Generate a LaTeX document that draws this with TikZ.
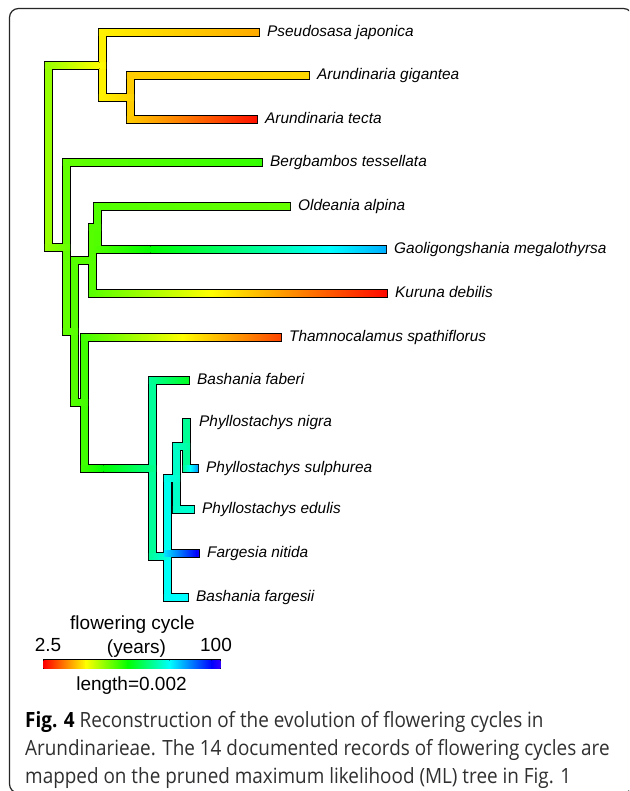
\documentclass[tikz,border=0pt]{standalone}
\usepackage{fontspec}
\setmainfont{Liberation Sans}
\newfontfamily\capfont[FakeStretch=0.9]{Open Sans}
\definecolor{capgray}{HTML}{303030}
\definecolor{framegray}{HTML}{262626}
\newdimen\brd
\newif\ifoutl
\def\outw{4.5}
\def\inw{3.3}
\newcommand\getx[2]{\pgfextractx{\brd}{\pgfpointanchor{#1}{center}}\pgfmathsetmacro#2{\brd}}
\newcommand\gety[2]{\pgfextracty{\brd}{\pgfpointanchor{#1}{center}}\pgfmathsetmacro#2{\brd}}
% horizontal hue gradient, canvas pt numbers: xa xb yc halfheight hueA hueB
\newcommand\hgrad[6]{%
  \pgfmathsetmacro\gyt{#3+#4}\pgfmathsetmacro\gyb{#3-#4}%
  \pgfmathsetmacro\gmin{min(#5,#6)}\pgfmathsetmacro\gmax{max(#5,#6)}%
  \definecolor{gS}{Hsb}{#5,1,1}%
  \fill[gS] (#1pt,\gyb pt) rectangle (#2pt,\gyt pt);
  \foreach \k in {0,60,120,180,240}{%
    \pgfmathsetmacro\glo{max(\k,\gmin)}%
    \pgfmathsetmacro\ghi{min(\k+60,\gmax)}%
    \ifdim\glo pt<\ghi pt\relax
      \pgfmathsetmacro\xlo{#1+(\glo-(#5))/((#6)-(#5))*((#2)-(#1))}%
      \pgfmathsetmacro\xhi{#1+(\ghi-(#5))/((#6)-(#5))*((#2)-(#1))}%
      \ifdim\xlo pt<\xhi pt\relax
        \definecolor{gL}{Hsb}{\glo,1,1}\definecolor{gR}{Hsb}{\ghi,1,1}%
        \pgfmathsetmacro\xl{\xlo-0.3}\pgfmathsetmacro\xr{\xhi+0.3}%
      \else
        \definecolor{gL}{Hsb}{\ghi,1,1}\definecolor{gR}{Hsb}{\glo,1,1}%
        \pgfmathsetmacro\xl{\xhi-0.3}\pgfmathsetmacro\xr{\xlo+0.3}%
      \fi
      \fill[left color=gL,right color=gR] (\xl pt,\gyb pt) rectangle (\xr pt,\gyt pt);
    \fi
  }%
}
% vertical branch of a node: node, top child, bottom child, hue
\newcommand\vbr[4]{%
  \getx{#1}\brX \gety{#2}\brYt \gety{#3}\brYb
  \ifoutl
    \pgfmathsetmacro\brL{\brX-\outw}\pgfmathsetmacro\brR{\brX+\outw}%
    \pgfmathsetmacro\brT{\brYt+\outw}\pgfmathsetmacro\brB{\brYb-\outw}%
    \fill[black] (\brL pt,\brT pt) rectangle (\brR pt,\brB pt);
  \else
    \pgfmathsetmacro\brL{\brX-\inw}\pgfmathsetmacro\brR{\brX+\inw}%
    \pgfmathsetmacro\brT{\brYt+\inw}\pgfmathsetmacro\brB{\brYb-\inw}%
    \definecolor{gV}{Hsb}{#4,1,1}%
    \fill[gV] (\brL pt,\brT pt) rectangle (\brR pt,\brB pt);
  \fi}
% horizontal branch: parent, child, hue at parent, hue at child
\newcommand\hbr[4]{%
  \getx{#1}\brXa \getx{#2}\brXb \gety{#2}\brY
  \ifoutl
    \pgfmathsetmacro\brL{\brXa-\outw}\pgfmathsetmacro\brR{\brXb+\outw}%
    \pgfmathsetmacro\brT{\brY+\outw}\pgfmathsetmacro\brB{\brY-\outw}%
    \fill[black] (\brL pt,\brB pt) rectangle (\brR pt,\brT pt);
  \else
    \pgfmathsetmacro\brL{\brXa-\inw}\pgfmathsetmacro\brR{\brXb+\inw}%
    \hgrad{\brL}{\brR}{\brY}{\inw}{#3}{#4}%
  \fi}
\newcommand\treeV{%
  \vbr{R}{P}{X}{85}%
  \vbr{P}{t1}{A}{57}%
  \vbr{A}{t2}{t3}{48}%
  \vbr{X}{t4}{X2}{97}%
  \vbr{X2}{O}{T}{100}%
  \vbr{O}{Op}{t7}{100}%
  \vbr{Op}{t5}{t6}{101}%
  \vbr{T}{t8}{N}{105}%
  \vbr{N}{t9}{M}{156}%
  \vbr{M}{Kp}{t14}{178}%
  \vbr{Kp}{K}{t13}{176}%
  \vbr{K}{J}{t12}{167}%
  \vbr{J}{t10}{t11}{155}%
}
\newcommand\treeH{%
  \hbr{R}{P}{85}{57}%
  \hbr{R}{X}{85}{97}%
  \hbr{P}{t1}{57}{40}%
  \hbr{P}{A}{57}{49}%
  \hbr{A}{t2}{48}{51}%
  \hbr{A}{t3}{48}{4}%
  \hbr{X}{t4}{97}{108}%
  \hbr{X}{X2}{97}{100}%
  \hbr{X2}{O}{100}{100}%
  \hbr{X2}{T}{100}{105}%
  \hbr{O}{Op}{100}{101}%
  \hbr{O}{t7}{100}{2}%
  \hbr{Op}{t5}{101}{96}%
  \hbr{Op}{t6}{101}{199}%
  \hbr{T}{t8}{105}{16}%
  \hbr{T}{N}{105}{155}%
  \hbr{N}{t9}{156}{128}%
  \hbr{N}{M}{156}{176}%
  \hbr{M}{t14}{178}{181}%
  \hbr{Kp}{K}{176}{167}%
  \hbr{Kp}{t13}{186}{244}%
  \hbr{K}{J}{167}{157}%
  \hbr{K}{t12}{167}{170}%
  \hbr{J}{t11}{155}{205}%
}
\begin{document}
\begin{tikzpicture}[x=1pt,y=-1pt,
  lab/.style={font=\fontsize{15.4}{18}\selectfont\itshape, inner sep=0pt, anchor=base west},
  leg/.style={font=\fontsize{19}{22}\selectfont, inner sep=0pt, anchor=base},
  capline/.style={font=\capfont\fontsize{21}{28}\selectfont, inner sep=0pt, anchor=base west, text=capgray},
  framebox/.style={draw=framegray, line width=1.2pt, rounded corners=9pt}]
\useasboundingbox (0,0) rectangle (629,791);
\fill[white] (0,0) rectangle (629,791);
\begin{scope}
\clip (0,0) rectangle (629,791);
\draw[framebox] (9.5,8.5) rectangle (632.5,793);
\end{scope}
% tree nodes
\coordinate (R) at (48.5,156);
\coordinate (P) at (102.5,65.5);
\coordinate (A) at (130.5,97.5);
\coordinate (X) at (66.5,247.5);
\coordinate (X2) at (74.5,331.5);
\coordinate (O) at (92.5,260.5);
\coordinate (Op) at (97.5,227.5);
\coordinate (T) at (84.5,402.5);
\coordinate (N) at (152.5,468.5);
\coordinate (M) at (167.5,556.5);
\coordinate (Kp) at (167.5,515.5);
\coordinate (K) at (176.5,478.5);
\coordinate (J) at (186.5,446.5);
% tips
\coordinate (t1) at (255.5,32.5);
\coordinate (t2) at (305.5,75.5);
\coordinate (t3) at (253.5,119.5);
\coordinate (t4) at (258.5,162.5);
\coordinate (t5) at (286.5,206.5);
\coordinate (t6) at (382.5,249.5);
\coordinate (t7) at (383.5,293.5);
\coordinate (t8) at (277.5,337.5);
\coordinate (t9) at (185.5,380.5);
\coordinate (t10) at (186.5,422.5);
\coordinate (t11) at (194.5,468.5);
\coordinate (t12) at (190.5,509.5);
\coordinate (t13) at (195.5,553.5);
\coordinate (t14) at (184.5,597.5);
% branches: outlines first, then colours
\outltrue \treeV \treeH
\outlfalse \treeV \treeH
% tip labels
\node[lab] (L1) at ([shift={(11.5,4)}]t1) {Pseudosasa japonica};
\node[lab] (L2) at ([shift={(11.5,4)}]t2) {Arundinaria gigantea};
\node[lab] (L3) at ([shift={(11.5,4)}]t3) {Arundinaria tecta};
\node[lab] (L4) at ([shift={(11.5,4)}]t4) {Bergbambos tessellata};
\node[lab] (L5) at ([shift={(11.5,4)}]t5) {Oldeania alpina};
\node[lab] (L6) at ([shift={(11.5,4)}]t6) {Gaoligongshania megalothyrsa};
\node[lab] (L7) at ([shift={(11.5,4)}]t7) {Kuruna debilis};
\node[lab] (L8) at ([shift={(11.5,4)}]t8) {Thamnocalamus spathiflorus};
\node[lab] (L9) at ([shift={(11.5,4)}]t9) {Bashania faberi};
\node[lab] (L10) at ([shift={(12.5,4)}]t10) {Phyllostachys nigra};
\node[lab] (L11) at ([shift={(11.5,4)}]t11) {Phyllostachys sulphurea};
\node[lab] (L12) at ([shift={(11.5,4)}]t12) {Phyllostachys edulis};
\node[lab] (L13) at ([shift={(11.5,4)}]t13) {Fargesia nitida};
\node[lab] (L14) at ([shift={(11.5,4)}]t14) {Bashania fargesii};
% legend
\node[leg] (lt1) at (132.5,629) {flowering cycle};
\node[leg] (lt2) at (136.5,653) {(years)};
\node[leg] (lmin) at (48,651) {2.5};
\node[leg] (lmax) at (216,651) {100};
\fill[black] (43,659) rectangle (221,669);
\hgrad{44}{220}{-664}{4}{0}{252}
\node[leg] (llen) at (131.5,690) {length=0.002};
% caption
\node[capline] (c1) at (25,727) {{\color{black}\bfseries Fig. 4} Reconstruction of the evolution of flowering cycles in};
\node[capline] (c2) at (25,755) {Arundinarieae. The 14 documented records of flowering cycles are};
\node[capline] (c3) at (25,783) {mapped on the pruned maximum likelihood (ML) tree in Fig. 1};
\end{tikzpicture}
\end{document}
